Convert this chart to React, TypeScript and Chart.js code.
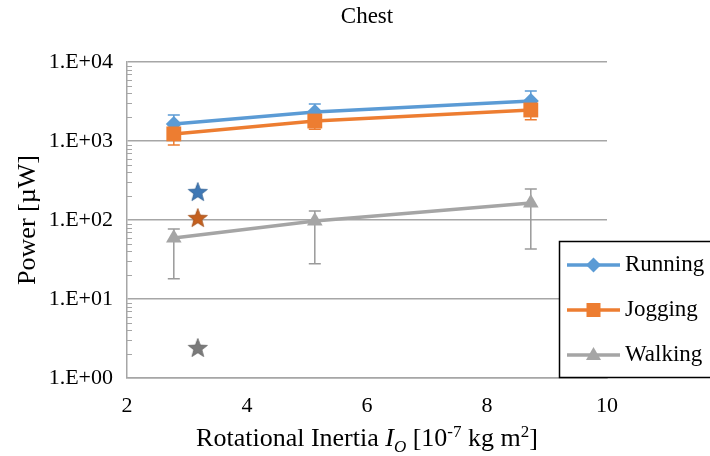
import React, { useEffect, useRef } from "react";
import { Chart, registerables } from "chart.js";

Chart.register(...registerables);

// ---- data ----
const xValues = [2.78, 5.13, 8.73];
const running = [1640, 2330, 3200];
const runningHigh = [2140, 2940, 4300];
const runningLow = [1140, 1720, 2100];
const jogging = [1230, 1790, 2470];
const joggingHigh = [1570, 2170, 3080];
const joggingLow = [890, 1410, 1860];
const walking = [59, 97, 164];
const walkingHigh = [77, 130, 247];
const walkingLow = [18, 28, 43];
const starX = 3.18;
const starRunning = 226;
const starJogging = 106;
const starWalking = 2.4;
const yTicks = [1, 10, 100, 1000, 10000];
const yTickLabels = ["1.E+00", "1.E+01", "1.E+02", "1.E+03", "1.E+04"];
const seriesNames = ["Running", "Jogging", "Walking"];

const BLUE = "#5B9BD5";
const ORANGE = "#ED7D31";
const GRAY = "#A5A5A5";
const FONT = '"Liberation Serif", "Times New Roman", serif';

function makeStar(fill: string, stroke: string): HTMLCanvasElement {
  const c = document.createElement("canvas");
  c.width = 22;
  c.height = 22;
  const ctx = c.getContext("2d")!;
  const cx = 11, cy = 11.5, R = 10, r = 4.2;
  ctx.beginPath();
  for (let i = 0; i < 10; i++) {
    const rad = i % 2 === 0 ? R : r;
    const a = -Math.PI / 2 + (i * Math.PI) / 5;
    const px = cx + rad * Math.cos(a);
    const py = cy + rad * Math.sin(a);
    if (i === 0) ctx.moveTo(px, py);
    else ctx.lineTo(px, py);
  }
  ctx.closePath();
  ctx.fillStyle = fill;
  ctx.fill();
  ctx.lineWidth = 0.8;
  ctx.strokeStyle = stroke;
  ctx.stroke();
  return c;
}

const errorBars = [
  { hi: runningHigh, lo: runningLow, color: BLUE },
  { hi: joggingHigh, lo: joggingLow, color: ORANGE },
  { hi: walkingHigh, lo: walkingLow, color: "#9A9A9A" },
];

const errorBarPlugin = {
  id: "errorBars",
  beforeDatasetsDraw(chart: any) {
    const { ctx, scales } = chart;
    const xs = scales.x, ys = scales.y;
    ctx.save();
    errorBars.forEach((eb) => {
      ctx.strokeStyle = eb.color;
      ctx.lineWidth = 1.5;
      xValues.forEach((xv, i) => {
        const px = xs.getPixelForValue(xv);
        const yh = ys.getPixelForValue(eb.hi[i]);
        const yl = ys.getPixelForValue(eb.lo[i]);
        ctx.beginPath();
        ctx.moveTo(px, yh);
        ctx.lineTo(px, yl);
        ctx.moveTo(px - 6, yh);
        ctx.lineTo(px + 6, yh);
        ctx.moveTo(px - 6, yl);
        ctx.lineTo(px + 6, yl);
        ctx.stroke();
      });
    });
    ctx.restore();
  },
};

const minorTickPlugin = {
  id: "minorTicks",
  afterDraw(chart: any) {
    const { ctx, scales, chartArea } = chart;
    const ys = scales.y;
    ctx.save();
    ctx.strokeStyle = "#A6A6A6";
    ctx.lineWidth = 1;
    for (let d = 0; d < 4; d++) {
      for (let k = 2; k <= 9; k++) {
        const py = Math.round(ys.getPixelForValue(k * Math.pow(10, d))) + 0.5;
        ctx.beginPath();
        ctx.moveTo(chartArea.left, py);
        ctx.lineTo(chartArea.left + 5, py);
        ctx.stroke();
      }
    }
    ctx.restore();
  },
};

function drawMarker(ctx: CanvasRenderingContext2D, kind: string, x: number, y: number, color: string) {
  ctx.fillStyle = color;
  ctx.beginPath();
  if (kind === "diamond") {
    const r = 7.5;
    ctx.moveTo(x, y - r);
    ctx.lineTo(x + r, y);
    ctx.lineTo(x, y + r);
    ctx.lineTo(x - r, y);
  } else if (kind === "square") {
    ctx.rect(x - 7, y - 7, 14, 14);
  } else {
    ctx.moveTo(x, y - 8);
    ctx.lineTo(x + 7.5, y + 5);
    ctx.lineTo(x - 7.5, y + 5);
  }
  ctx.closePath();
  ctx.fill();
}

const textPlugin = {
  id: "texts",
  afterDraw(chart: any) {
    const { ctx, chartArea } = chart;
    ctx.save();
    // title
    ctx.fillStyle = "#000";
    ctx.textAlign = "center";
    ctx.textBaseline = "middle";
    ctx.font = `23px ${FONT}`;
    ctx.fillText("Chest", (chartArea.left + chartArea.right) / 2, 17);

    // y axis title
    ctx.save();
    ctx.translate(28, (chartArea.top + chartArea.bottom) / 2);
    ctx.rotate(-Math.PI / 2);
    ctx.font = `26px ${FONT}`;
    ctx.fillText("Power [\u00B5W]", 0, 0);
    ctx.restore();

    // x axis title with rich text
    const parts: { t: string; f: string; dy: number }[] = [
      { t: "Rotational Inertia ", f: `26px ${FONT}`, dy: 0 },
      { t: "I", f: `italic 26px ${FONT}`, dy: 0 },
      { t: "O", f: `italic 17px ${FONT}`, dy: 6 },
      { t: " [10", f: `26px ${FONT}`, dy: 0 },
      { t: "-7", f: `17px ${FONT}`, dy: -9 },
      { t: " kg m", f: `26px ${FONT}`, dy: 0 },
      { t: "2", f: `17px ${FONT}`, dy: -9 },
      { t: "]", f: `26px ${FONT}`, dy: 0 },
    ];
    let total = 0;
    parts.forEach((p) => {
      ctx.font = p.f;
      total += ctx.measureText(p.t).width;
    });
    let x = (chartArea.left + chartArea.right) / 2 - total / 2;
    ctx.textAlign = "left";
    ctx.textBaseline = "alphabetic";
    parts.forEach((p) => {
      ctx.font = p.f;
      ctx.fillText(p.t, x, 446 + p.dy);
      x += ctx.measureText(p.t).width;
    });

    // legend
    const bx = 559.5, by = 241.5, bw = 160, bh = 136;
    ctx.fillStyle = "#fff";
    ctx.fillRect(bx, by, bw, bh);
    ctx.strokeStyle = "#000";
    ctx.lineWidth = 1.5;
    ctx.strokeRect(bx, by, bw, bh);
    const rows = [
      { y: 265, color: BLUE, kind: "diamond" },
      { y: 310, color: ORANGE, kind: "square" },
      { y: 355, color: GRAY, kind: "triangle" },
    ];
    rows.forEach((r, i) => {
      ctx.strokeStyle = r.color;
      ctx.lineWidth = 3.5;
      ctx.beginPath();
      ctx.moveTo(567, r.y);
      ctx.lineTo(620, r.y);
      ctx.stroke();
      drawMarker(ctx, r.kind, 593.5, r.y, r.color);
      ctx.fillStyle = "#000";
      ctx.font = `23px ${FONT}`;
      ctx.textBaseline = "middle";
      ctx.fillText(seriesNames[i], 625, r.y);
    });
    ctx.restore();
  },
};

export default function App() {
  const ref = useRef<HTMLCanvasElement>(null);
  useEffect(() => {
    document.body.style.margin = "0";
    const toPts = (ys: number[]) => xValues.map((x, i) => ({ x, y: ys[i] }));
    const chart = new Chart(ref.current!, {
      type: "scatter",
      data: {
        datasets: [
          {
            label: seriesNames[0],
            data: toPts(running),
            showLine: true,
            borderColor: BLUE,
            backgroundColor: BLUE,
            borderWidth: 3.5,
            pointStyle: "rectRot",
            pointRadius: 8,
            pointBorderWidth: 0,
            order: 3,
          },
          {
            label: seriesNames[1],
            data: toPts(jogging),
            showLine: true,
            borderColor: ORANGE,
            backgroundColor: ORANGE,
            borderWidth: 3.5,
            pointStyle: "rect",
            pointRadius: 10.5,
            pointBorderWidth: 0,
            order: 2,
          },
          {
            label: seriesNames[2],
            data: toPts(walking),
            showLine: true,
            borderColor: GRAY,
            backgroundColor: GRAY,
            borderWidth: 3.5,
            pointStyle: "triangle",
            pointRadius: 9,
            pointBorderWidth: 0,
            order: 1,
          },
          {
            label: "stars",
            data: [
              { x: starX, y: starRunning },
              { x: starX, y: starJogging },
              { x: starX, y: starWalking },
            ],
            showLine: false,
            pointStyle: [
              makeStar("#3F78B5", "#2E5F93"),
              makeStar("#C4601F", "#A34E16"),
              makeStar("#7A7A7A", "#666666"),
            ] as any,
            order: 0,
          },
        ],
      },
      options: {
        responsive: false,
        animation: false,
        events: [],
        layout: { padding: { top: 62, right: 103, left: 0, bottom: 0 } },
        plugins: { legend: { display: false }, tooltip: { enabled: false }, title: { display: false } },
        scales: {
          x: {
            type: "linear",
            min: 2,
            max: 10,
            afterFit: (s: any) => {
              s.height = 78;
            },
            ticks: {
              stepSize: 2,
              padding: 15,
              color: "#000",
              font: { family: FONT, size: 22 },
            },
            grid: { display: false, drawTicks: false },
            border: { display: true, color: "#A6A6A6", width: 1.5 },
          },
          y: {
            type: "logarithmic",
            min: 1,
            max: 10000,
            afterFit: (s: any) => {
              s.width = 127;
            },
            afterBuildTicks: (s: any) => {
              s.ticks = yTicks.map((v) => ({ value: v, major: true }));
            },
            ticks: {
              padding: 14,
              color: "#000",
              font: { family: FONT, size: 22 },
              callback: (v: any) => {
                const i = yTicks.indexOf(Number(v));
                return i >= 0 ? yTickLabels[i] : "";
              },
            },
            grid: { color: "#A6A6A6", lineWidth: 1.5, drawTicks: false },
            border: { display: true, color: "#A6A6A6", width: 1.5 },
          },
        },
      },
      plugins: [errorBarPlugin, minorTickPlugin, textPlugin],
    });
    return () => chart.destroy();
  }, []);
  return (
    <div style={{ position: "absolute", left: 0, top: 0, width: 710, height: 456, background: "#fff" }}>
      <canvas ref={ref} width={710} height={456} />
    </div>
  );
}
